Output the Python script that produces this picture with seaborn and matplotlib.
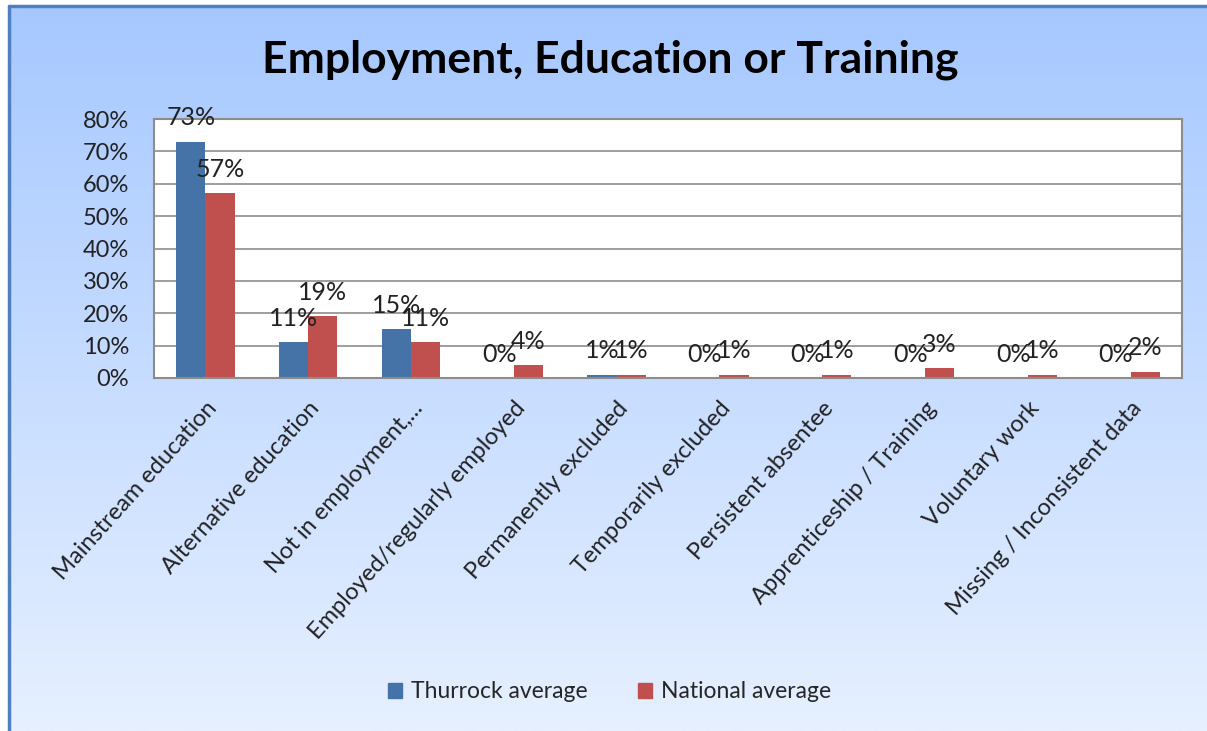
import numpy as np
import pandas as pd
import seaborn as sns
import matplotlib.pyplot as plt
from matplotlib.patches import Rectangle
from matplotlib.lines import Line2D

# data
categories = ["Mainstream education", "Alternative education", "Not in employment,...",
              "Employed/regularly employed", "Permanently excluded", "Temporarily excluded",
              "Persistent absentee", "Apprenticeship / Training", "Voluntary work",
              "Missing / Inconsistent data"]
thurrock = [73, 11, 15, 0, 1, 0, 0, 0, 0, 0]
national = [57, 19, 11, 4, 1, 1, 1, 3, 1, 2]
series = ["Thurrock average", "National average"]
colors = ["#4572a7", "#c0504d"]

df = pd.DataFrame({
    "category": categories * 2,
    "value": thurrock + national,
    "series": [series[0]] * len(categories) + [series[1]] * len(categories),
})

sns.set_theme(style="white")
plt.rcParams['font.family'] = ['Lato', 'DejaVu Sans']

W, H = 1207, 731
fig = plt.figure(figsize=(W / 100, H / 100), dpi=100)
fig.patch.set_facecolor("white")

# gradient background + left/top border
bg = fig.add_axes([8 / W, 0, 1 - 8 / W, 1 - 6 / H], zorder=-10)
grad = np.linspace(0, 1, 256).reshape(-1, 1)
top = np.array([166, 200, 255]) / 255
bot = np.array([230, 240, 255]) / 255
img = top[None, None, :] * (1 - grad[..., None]) + bot[None, None, :] * grad[..., None]
bg.imshow(img, aspect="auto", extent=[0, 1, 0, 1])
bg.set_axis_off()
fig.add_artist(Line2D([8.5 / W, 8.5 / W], [0, 1 - 6 / H], color="#4f7fc0", lw=2.5, transform=fig.transFigure))
fig.add_artist(Line2D([8.5 / W, 1], [1 - 6 / H, 1 - 6 / H], color="#4f7fc0", lw=2.5, transform=fig.transFigure))

ax = fig.add_axes([154 / W, 1 - 378 / H, (1182 - 154) / W, (378 - 119) / H])
ax.set_facecolor("white")

sns.barplot(data=df, x="category", y="value", hue="series", palette=colors,
            width=0.57, saturation=1, linewidth=0, ax=ax, legend=False)

for c in ax.containers:
    ax.bar_label(c, labels=[f"{v:.0f}%" for v in c.datavalues], padding=9,
                 fontsize=18, color="#222222")

ax.set_ylim(0, 80)
ax.set_yticks(range(0, 81, 10))
ax.set_yticklabels([f"{v}%" for v in range(0, 81, 10)], fontsize=17, color="#222222")
ax.yaxis.grid(True, color="#8c8c8c", lw=1.2)
ax.set_axisbelow(True)
ax.set_xlim(-0.5, len(categories) - 0.5)
ax.set_xlabel("")
ax.set_ylabel("")
ax.tick_params(axis="y", length=0, pad=18)
ax.tick_params(axis="x", length=0, pad=14)
plt.setp(ax.get_xticklabels(), rotation=48, ha="right", va="top", rotation_mode="anchor",
         fontsize=17, color="#222222")
for s in ax.spines.values():
    s.set_color("#8c8c8c")
    s.set_linewidth(1.5)

fig.text(0.506, 1 - 60 / H, "Employment, Education or Training", ha="center", va="center",
         fontsize=32, fontweight="bold", color="black")

handles = [Rectangle((0, 0), 1, 1, color=c) for c in colors]
fig.legend(handles, series, loc="center", bbox_to_anchor=(0.505, 1 - 692 / H), ncol=2,
           frameon=False, fontsize=16.5, handlelength=0.6, handleheight=0.6,
           columnspacing=2.2, handletextpad=0.4)

fig.savefig("out.png", dpi=100)
